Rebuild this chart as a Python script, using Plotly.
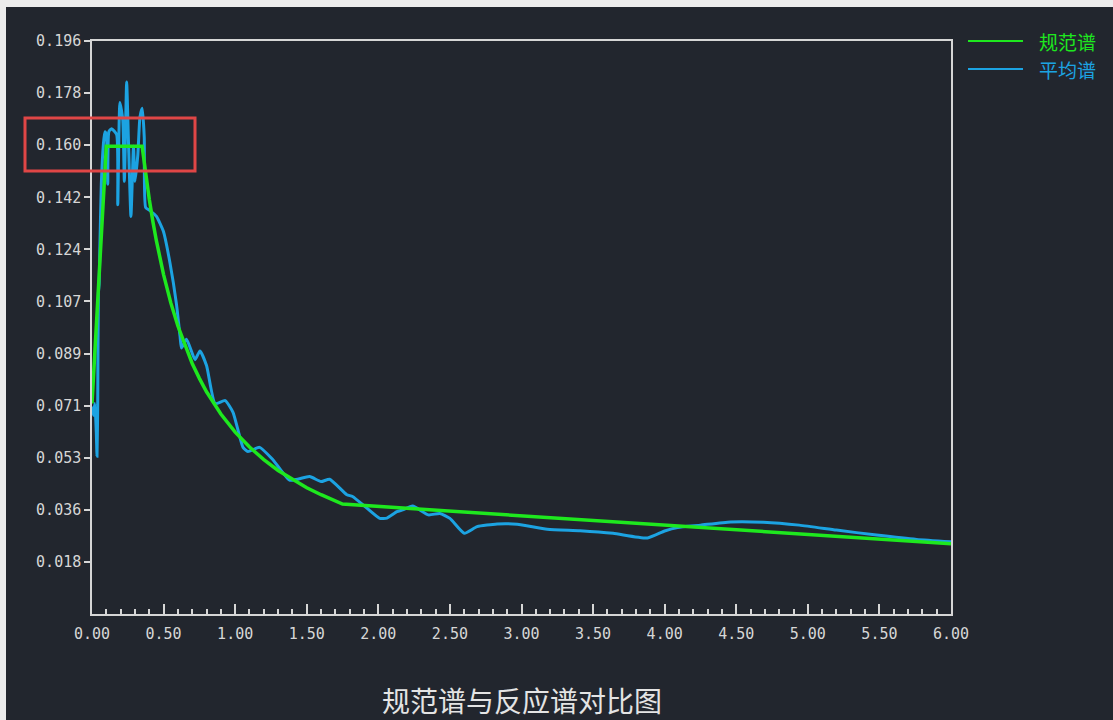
import plotly.graph_objects as go

# 规范谱 (design code spectrum): period (s) -> seismic influence coefficient
code_period = [0.00, 0.10, 0.35, 0.375, 0.40, 0.425, 0.45, 0.50, 0.55, 0.60, 0.65, 0.70,
               0.75, 0.80, 0.90, 1.00, 1.10, 1.20, 1.30, 1.40, 1.50, 1.60, 1.70, 1.75, 6.00]
code_alpha = [0.0720, 0.1600, 0.1600, 0.1504, 0.1419, 0.1343, 0.1276, 0.1161, 0.1065, 0.0985,
              0.0917, 0.0857, 0.0806, 0.0760, 0.0684, 0.0622, 0.0571, 0.0528, 0.0491, 0.0460,
              0.0432, 0.0408, 0.0386, 0.0376, 0.0240]

# 平均谱 (mean response spectrum of the selected records)
avg_period = [0.000, 0.010, 0.020, 0.030, 0.035, 0.040, 0.045, 0.050, 0.055, 0.065, 0.080,
              0.090, 0.100, 0.110, 0.118, 0.137, 0.172, 0.180, 0.195, 0.215, 0.226, 0.242,
              0.254, 0.272, 0.290, 0.300, 0.320, 0.335, 0.351, 0.365, 0.375, 0.405, 0.450,
              0.498, 0.545, 0.590, 0.615, 0.625, 0.660, 0.720, 0.754, 0.800, 0.860, 0.930,
              0.985, 1.055, 1.090, 1.170, 1.265, 1.380, 1.520, 1.600, 1.660, 1.780, 1.820,
              1.920, 2.010, 2.060, 2.130, 2.170, 2.240, 2.350, 2.430, 2.500, 2.600, 2.690,
              2.830, 2.970, 3.180, 3.410, 3.640, 3.880, 4.000, 4.090, 4.250, 4.460, 4.690,
              4.940, 5.200, 5.480, 5.760, 6.000]
avg_alpha = [0.0710, 0.0680, 0.0720, 0.0620, 0.0540, 0.0720, 0.1100, 0.1130, 0.1250, 0.1470,
             0.1610, 0.1650, 0.1640, 0.1470, 0.1650, 0.1660, 0.1640, 0.1400, 0.1750, 0.1690,
             0.1480, 0.1820, 0.1630, 0.1360, 0.1600, 0.1480, 0.1570, 0.1700, 0.1730, 0.1630,
             0.1390, 0.1380, 0.1360, 0.1310, 0.1200, 0.1060, 0.0950, 0.0910, 0.0940, 0.0870,
             0.0900, 0.0850, 0.0720, 0.0730, 0.0690, 0.0570, 0.0556, 0.0570, 0.0527, 0.0458,
             0.0470, 0.0453, 0.0461, 0.0408, 0.0402, 0.0362, 0.0327, 0.0328, 0.0350, 0.0356,
             0.0369, 0.0339, 0.0344, 0.0327, 0.0276, 0.0299, 0.0308, 0.0307, 0.0290, 0.0285,
             0.0276, 0.0260, 0.0284, 0.0296, 0.0304, 0.0315, 0.0314, 0.0304, 0.0287, 0.0270,
             0.0255, 0.0247]

x_tick_vals = [0.0, 0.5, 1.0, 1.5, 2.0, 2.5, 3.0, 3.5, 4.0, 4.5, 5.0, 5.5, 6.0]
x_tick_text = ["0.00", "0.50", "1.00", "1.50", "2.00", "2.50", "3.00",
               "3.50", "4.00", "4.50", "5.00", "5.50", "6.00"]
y_max = 0.196
y_tick_text = ["0.018", "0.036", "0.053", "0.071", "0.089", "0.107",
               "0.124", "0.142", "0.160", "0.178", "0.196"]
y_tick_vals = [y_max * (i + 1) / len(y_tick_text) for i in range(len(y_tick_text))]

series_names = ["规范谱", "平均谱"]
chart_title = "规范谱与反应谱对比图"

BG = "#22262e"
AXIS = "#d6d6d6"
GREEN = "#1ee81e"
BLUE = "#1ca3e2"
MONO = "DejaVu Sans Mono"
CJK = "Noto Sans CJK SC"

fig = go.Figure()
fig.add_trace(go.Scatter(x=avg_period, y=avg_alpha, mode="lines", name=series_names[1],
                         line=dict(color=BLUE, width=3, shape="spline", smoothing=0.5),
                         showlegend=False))
fig.add_trace(go.Scatter(x=code_period, y=code_alpha, mode="lines", name=series_names[0],
                         line=dict(color=GREEN, width=3.5), showlegend=False))

L, R, T, B = 92, 162, 41, 106
W, H = 1113, 720
pw, ph = W - L - R, H - T - B


def px(xp):
    return (xp - L) / pw


def py(yp):
    return (H - B - yp) / ph


shapes = [
    # light frame strips along the top and left edges of the page
    dict(type="rect", xref="paper", yref="paper", x0=px(0), x1=px(W), y0=py(7), y1=py(0),
         fillcolor="#ececec", line=dict(width=0), layer="below"),
    dict(type="rect", xref="paper", yref="paper", x0=px(0), x1=px(6), y0=py(H), y1=py(0),
         fillcolor="#ececec", line=dict(width=0), layer="below"),
    # highlight box around the plateau value
    dict(type="rect", xref="paper", yref="paper", x0=px(25), x1=px(195), y0=py(171), y1=py(118),
         line=dict(color="#e04646", width=3), fillcolor="rgba(0,0,0,0)"),
    # legend keys
    dict(type="line", xref="paper", yref="paper", x0=px(968), x1=px(1023), y0=py(41), y1=py(41),
         line=dict(color=GREEN, width=2)),
    dict(type="line", xref="paper", yref="paper", x0=px(968), x1=px(1023), y0=py(69), y1=py(69),
         line=dict(color=BLUE, width=2)),
]

annotations = [
    dict(xref="paper", yref="paper", x=px(1037), y=py(42), xanchor="left", yanchor="middle",
         text=series_names[0], showarrow=False, font=dict(family=CJK, size=19, color=GREEN)),
    dict(xref="paper", yref="paper", x=px(1037), y=py(70), xanchor="left", yanchor="middle",
         text=series_names[1], showarrow=False, font=dict(family=CJK, size=19, color=BLUE)),
    dict(xref="paper", yref="paper", x=0.5, y=py(700), xanchor="center", yanchor="middle",
         text=chart_title, showarrow=False, font=dict(family=CJK, size=28, color="#e4e4e4")),
]

fig.update_layout(
    width=W, height=H,
    margin=dict(l=L, r=R, t=T, b=B),
    paper_bgcolor=BG, plot_bgcolor=BG,
    showlegend=False,
    shapes=shapes,
    annotations=annotations,
    xaxis=dict(range=[0, 6], tickvals=x_tick_vals, ticktext=x_tick_text,
               ticks="inside", ticklen=10, tickwidth=1.5, tickcolor=AXIS,
               minor=dict(dtick=0.1, tick0=0, ticks="inside", ticklen=5, tickwidth=1.5,
                          tickcolor=AXIS, showgrid=False),
               showline=True, linecolor=AXIS, linewidth=1.5, mirror=True,
               showgrid=False, zeroline=False, ticklabelstandoff=5,
               tickfont=dict(family=MONO, size=15, color=AXIS)),
    yaxis=dict(range=[0, y_max], tickvals=y_tick_vals, ticktext=y_tick_text,
               ticks="outside", ticklen=6, tickwidth=1.5, tickcolor=AXIS,
               showline=True, linecolor=AXIS, linewidth=1.5, mirror=True,
               showgrid=False, zeroline=False,
               tickfont=dict(family=MONO, size=15, color=AXIS)),
)

fig.write_html("out.html")
